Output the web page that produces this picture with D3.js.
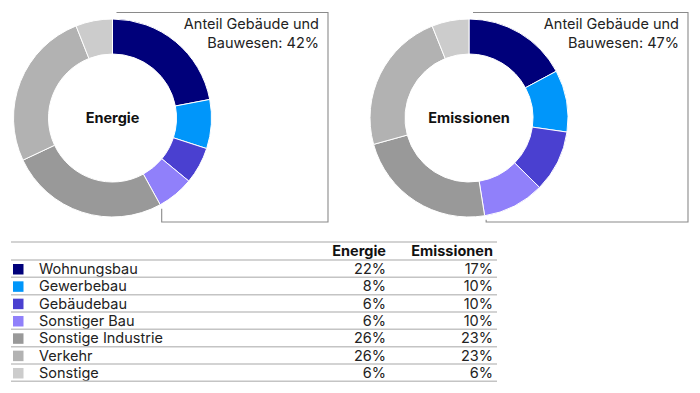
<!DOCTYPE html>
<html>
<head>
<meta charset="utf-8">
<script src="https://cdn.jsdelivr.net/npm/d3@7"></script>
<style>
  body { margin: 0; background: #fff; }
  svg { display: block; font-family: Inter, Roboto, "Noto Sans", sans-serif; }
</style>
</head>
<body>
<div id="chart"></div>
<script>
// werte
var categories = ["Wohnungsbau", "Gewerbebau", "Gebäudebau", "Sonstiger Bau", "Sonstige Industrie", "Verkehr", "Sonstige"];
var energie = [22, 8, 6, 6, 26, 26, 6];
var emissionen = [17, 10, 10, 10, 23, 23, 6];
var colors = ["#00007a", "#0096fa", "#4a40d0", "#9080fa", "#999999", "#b2b2b2", "#cccccc"];
var buildingCats = ["Wohnungsbau", "Gewerbebau", "Gebäudebau", "Sonstiger Bau"];
var seriesNames = ["Energie", "Emissionen"];

var W = 700, H = 393;
var fs = 14.5;
var svg = d3.select("#chart").append("svg").attr("width", W).attr("height", H);

var color = d3.scaleOrdinal().domain(categories).range(colors);

// un donut par serie
var donuts = [
  {name: "Energie", values: energie, cx: 112.5, boxRight: 328},
  {name: "Emissionen", values: emissionen, cx: 469, boxRight: 688}
];
var cy = 118, rOuter = 99, rInner = 64;
var boxTop = 12.5, boxBottom = 222;

var pie = d3.pie().sort(null).value(function(d){ return d.v; });
var arc = d3.arc().innerRadius(rInner).outerRadius(rOuter);

donuts.forEach(function(dn){
  var rows = categories.map(function(c, i){ return {cat: c, v: dn.values[i]}; });
  var arcs = pie(rows);
  var built = arcs.filter(function(a){ return buildingCats.indexOf(a.data.cat) >= 0; });
  var endAngle = d3.max(built, function(a){ return a.endAngle; });
  var share = d3.sum(built, function(a){ return a.data.v; });

  // cadre autour des segments "Gebäude und Bauwesen"
  var ex = dn.cx + rOuter * Math.sin(endAngle);
  var ey = cy - rOuter * Math.cos(endAngle);
  svg.append("path")
    .attr("d", d3.line()([[dn.cx + 4, boxTop], [dn.boxRight, boxTop], [dn.boxRight, boxBottom], [ex + 1.5, boxBottom], [ex + 1.5, ey + 4]]))
    .attr("fill", "none")
    .attr("stroke", "#8a8a8a")
    .attr("stroke-width", 1.1);

  var g = svg.append("g").attr("transform", "translate(" + dn.cx + "," + cy + ")");
  g.selectAll("path.slice").data(arcs).enter().append("path")
    .attr("class", "slice")
    .attr("d", arc)
    .attr("fill", function(d){ return color(d.data.cat); })
    .attr("stroke", "#fff")
    .attr("stroke-width", 1);

  g.append("text")
    .attr("text-anchor", "middle")
    .attr("dy", "0.35em")
    .attr("font-weight", "bold")
    .attr("font-size", fs)
    .attr("fill", "#111")
    .text(dn.name);

  var t = svg.append("text")
    .attr("text-anchor", "end")
    .attr("font-size", fs)
    .attr("fill", "#222");
  t.append("tspan").attr("x", dn.boxRight - 9).attr("y", 29).text("Anteil Gebäude und");
  t.append("tspan").attr("x", dn.boxRight - 9).attr("y", 47.5).text("Bauwesen: " + share + "%");
});

// tableau / legende
var tLeft = 11, tRight = 497;
var colRight = {Energie: 386, Emissionen: 493};
var y = d3.scaleBand().domain(categories).range([260, 260 + 7 * 17.33]);
var lineCol = "#c4c4c4";

var table = svg.append("g").attr("class", "table");

table.append("line")
  .attr("x1", tLeft).attr("x2", tRight).attr("y1", 242).attr("y2", 242)
  .attr("stroke", lineCol).attr("stroke-width", 1.5);

seriesNames.forEach(function(s){
  table.append("text")
    .attr("x", colRight[s]).attr("y", 256)
    .attr("text-anchor", "end")
    .attr("font-weight", "bold")
    .attr("font-size", fs)
    .attr("fill", "#111")
    .text(s);
});

table.append("line")
  .attr("x1", tLeft).attr("x2", tRight).attr("y1", y.range()[0]).attr("y2", y.range()[0])
  .attr("stroke", lineCol).attr("stroke-width", 1.5);

var row = table.selectAll("g.row").data(categories).enter().append("g")
  .attr("class", "row")
  .attr("transform", function(d){ return "translate(0," + y(d) + ")"; });

row.append("rect")
  .attr("x", 13).attr("y", 4)
  .attr("width", 10.5).attr("height", 10.5)
  .attr("fill", function(d){ return color(d); });

row.append("text")
  .attr("x", 39).attr("y", 14)
  .attr("font-size", fs)
  .attr("fill", "#222")
  .text(function(d){ return d; });

row.append("text")
  .attr("x", colRight.Energie).attr("y", 14)
  .attr("text-anchor", "end")
  .attr("font-size", fs)
  .attr("fill", "#222")
  .text(function(d, i){ return energie[i] + "%"; });

row.append("text")
  .attr("x", colRight.Emissionen).attr("y", 14)
  .attr("text-anchor", "end")
  .attr("font-size", fs)
  .attr("fill", "#222")
  .text(function(d, i){ return emissionen[i] + "%"; });

row.append("line")
  .attr("x1", tLeft).attr("x2", tRight)
  .attr("y1", y.bandwidth()).attr("y2", y.bandwidth())
  .attr("stroke", lineCol).attr("stroke-width", 1.5);
</script>
</body>
</html>
